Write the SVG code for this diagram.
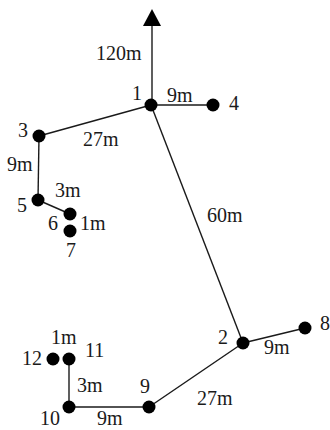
<svg xmlns="http://www.w3.org/2000/svg" width="330" height="430" viewBox="0 0 330 430">
<style>
.e{stroke:#1a1a1a;stroke-width:1.4;fill:none}
.n{fill:#000}
.ah{fill:#000}
text{font-family:"Liberation Serif","Times New Roman",serif;font-size:20px;fill:#1a1a1a}
</style>
<rect width="330" height="430" fill="#fff"/>
<g id="connectors">
<line class="e" x1="152" y1="105" x2="152" y2="26"/>
<path class="ah" d="M143,26 L152,9 L161,26 Z"/>
<line class="e" x1="151" y1="105" x2="213" y2="105"/>
<line class="e" x1="151" y1="105" x2="39" y2="136"/>
<line class="e" x1="151" y1="105" x2="243" y2="343"/>
<line class="e" x1="39" y1="136" x2="38" y2="200"/>
<line class="e" x1="38" y1="200" x2="70" y2="214"/>
<line class="e" x1="243" y1="343" x2="305" y2="328"/>
<line class="e" x1="243" y1="343" x2="149" y2="407"/>
<line class="e" x1="149" y1="407" x2="69" y2="407"/>
<line class="e" x1="69" y1="407" x2="69" y2="359"/>
</g>
<g id="edge-labels">
<text x="96" y="60">120m</text>
<text x="167" y="102">9m</text>
<text x="83" y="146">27m</text>
<text x="7" y="171">9m</text>
<text x="55" y="197">3m</text>
<text x="80" y="230">1m</text>
<text x="207" y="222">60m</text>
<text x="264" y="354">9m</text>
<text x="197" y="405">27m</text>
<text x="51" y="344">1m</text>
<text x="77" y="392">3m</text>
<text x="97" y="425">9m</text>
</g>
<g id="node1"><circle class="n" cx="151" cy="105" r="6.5"/><text x="132" y="100">1</text></g>
<g id="node2"><circle class="n" cx="243" cy="343" r="6.5"/><text x="218" y="344">2</text></g>
<g id="node3"><circle class="n" cx="39" cy="136" r="6.5"/><text x="18" y="137">3</text></g>
<g id="node4"><circle class="n" cx="213" cy="105" r="6.5"/><text x="229" y="110">4</text></g>
<g id="node5"><circle class="n" cx="38" cy="200" r="6.5"/><text x="17" y="212">5</text></g>
<g id="node6"><circle class="n" cx="70" cy="214" r="6.5"/><text x="48" y="230">6</text></g>
<g id="node7"><circle class="n" cx="70" cy="231" r="6.5"/><text x="66" y="257">7</text></g>
<g id="node8"><circle class="n" cx="305" cy="328" r="6.5"/><text x="320" y="330">8</text></g>
<g id="node9"><circle class="n" cx="149" cy="407" r="6.5"/><text x="140" y="393">9</text></g>
<g id="node10"><circle class="n" cx="69" cy="407" r="6.5"/><text x="40" y="425">10</text></g>
<g id="node11"><circle class="n" cx="69" cy="359" r="6.5"/><text x="85" y="357">11</text></g>
<g id="node12"><circle class="n" cx="53" cy="359" r="6.5"/><text x="22" y="365">12</text></g>
</svg>
